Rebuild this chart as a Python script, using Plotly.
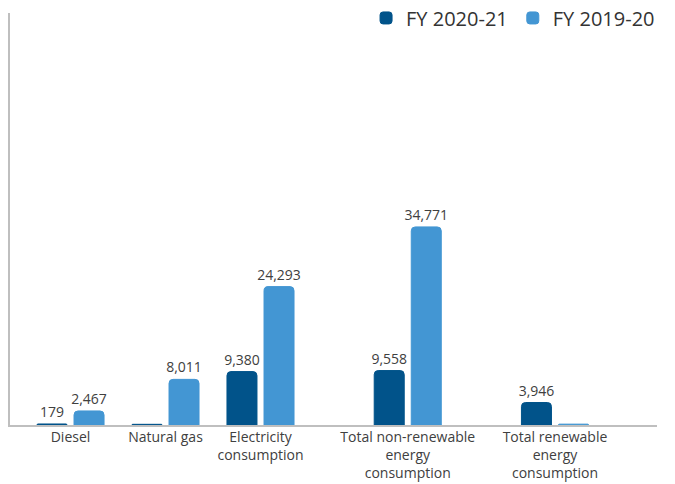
import plotly.graph_objects as go

categories = ["Diesel", "Natural gas", "Electricity<br>consumption",
              "Total non-renewable<br>energy<br>consumption",
              "Total renewable<br>energy<br>consumption"]
fy2021 = [179, 120, 9380, 9558, 3946]
fy1920 = [2467, 8011, 24293, 34771, 150]
labels2021 = ["179", "", "9,380", "9,558", "3,946"]
labels1920 = ["2,467", "8,011", "24,293", "34,771", ""]

# layout: slot positions of the category groups along the x axis
slots = [0, 1, 2, 3.55, 5.1]

DARK = "#01538a"
LIGHT = "#4396d3"
FONT = "Open Sans"

fig = go.Figure()
fig.add_trace(go.Bar(x=slots, y=fy2021, name="FY 2020-21", marker=dict(color=DARK, cornerradius=4, line=dict(color=DARK, width=1)),
                     text=labels2021, textposition="outside", cliponaxis=False,
                     textfont=dict(family=FONT, size=14, color="#404040")))
fig.add_trace(go.Bar(x=slots, y=fy1920, name="FY 2019-20", marker=dict(color=LIGHT, cornerradius=4, line=dict(color=LIGHT, width=1)),
                     text=labels1920, textposition="outside", cliponaxis=False,
                     textfont=dict(family=FONT, size=14, color="#404040")))

ymax = max(fy1920) * 2.08
fig.update_layout(
    width=675, height=484,
    margin=dict(l=2, r=26, t=5, b=67, autoexpand=False),
    paper_bgcolor="white", plot_bgcolor="white",
    barmode="group", bargap=0.22, bargroupgap=0.19,
    font=dict(family=FONT, color="#404040"),
    showlegend=True,
    legend=dict(orientation="h", xref="container", x=0.966, xanchor="right",
                yref="paper", y=0.988, yanchor="middle",
                font=dict(family=FONT, size=20, color="#333333"),
                itemwidth=30, traceorder="normal", bgcolor="rgba(0,0,0,0)"),
    uniformtext=dict(minsize=14, mode="show"),
)
fig.update_xaxes(range=[-0.637, 6.174], tickvals=slots, ticktext=categories,
                 showline=True, linecolor="#bfbfbf", linewidth=1.5,
                 showgrid=False, zeroline=False, ticks="", automargin=False,
                 ticklabelstandoff=-2,
                 tickfont=dict(family=FONT, size=14, color="#404040"))
fig.update_yaxes(range=[0, ymax], showline=True, linecolor="#bfbfbf", linewidth=1.5,
                 showgrid=False, zeroline=False, showticklabels=False, ticks="", automargin=False)

fig.write_html("out.html")
